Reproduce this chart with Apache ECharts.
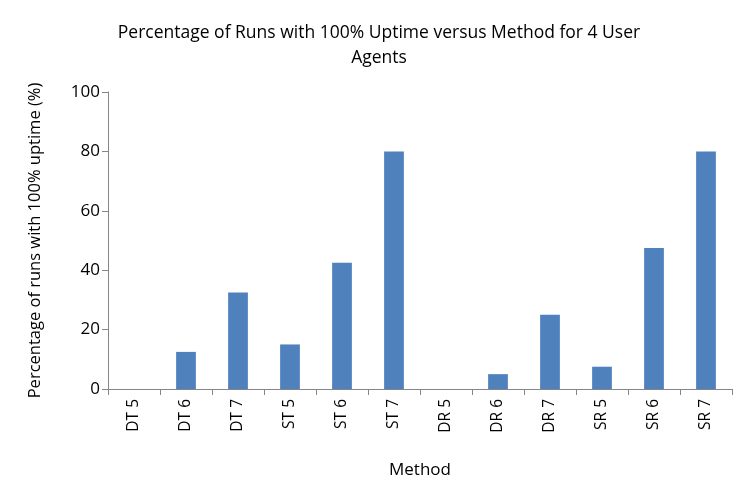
<!DOCTYPE html>
<html>
<head>
<meta charset="utf-8">
<script src="https://cdn.jsdelivr.net/npm/echarts@6/dist/echarts.min.js"></script>
<style>html,body{margin:0;padding:0;background:#fff}#chart{width:750px;height:499px}</style>
</head>
<body>
<div id="chart"></div>
<script>
var categories = ['DT 5', 'DT 6', 'DT 7', 'ST 5', 'ST 6', 'ST 7', 'DR 5', 'DR 6', 'DR 7', 'SR 5', 'SR 6', 'SR 7'];
var uptimeValues = [0, 12.5, 32.5, 15, 42.5, 80, 0, 5, 25, 7.5, 47.5, 80];
var yTicks = [0, 20, 40, 60, 80, 100];

var font = 'Open Sans, Liberation Sans, sans-serif';
var Chart = echarts.init(document.getElementById('chart'));
var option = {
    animation: false,
    backgroundColor: '#FFFFFF',
    title: {
        text: 'Percentage of Runs with 100% Uptime versus Method for 4 User\nAgents',
        left: 374,
        top: 16,
        textAlign: 'center',
        textStyle: {fontFamily: font, fontSize: 17.5, fontWeight: 'normal', color: '#000', lineHeight: 25}
    },
    grid: {left: 108, right: 18, top: 92, bottom: 110},
    xAxis: {
        type: 'category',
        data: categories,
        name: 'Method',
        nameLocation: 'middle',
        nameGap: 73,
        nameTextStyle: {fontFamily: font, fontSize: 17, color: '#000'},
        axisLine: {lineStyle: {color: '#868686'}},
        axisTick: {show: true, length: 6, lineStyle: {color: '#868686'}},
        axisLabel: {rotate: 90, fontFamily: font, fontSize: 15.5, color: '#000', margin: 10}
    },
    yAxis: {
        type: 'value',
        min: 0,
        max: 100,
        interval: 20,
        name: 'Percentage of runs with 100% uptime (%)',
        nameLocation: 'middle',
        nameGap: 64,
        nameTextStyle: {fontFamily: font, fontSize: 16.5, color: '#000'},
        axisLine: {show: true, lineStyle: {color: '#868686'}},
        axisTick: {show: true, length: 6, lineStyle: {color: '#868686'}},
        splitLine: {show: false},
        axisLabel: {
            fontFamily: font, fontSize: 17, color: '#000',
            formatter: function (v) { return yTicks.indexOf(v) >= 0 ? String(v) : ''; }
        }
    },
    series: [{
        type: 'bar',
        data: uptimeValues,
        barWidth: '38%',
        itemStyle: {color: '#4F81BD'}
    }]
};
Chart.setOption(option);
</script>
</body>
</html>
